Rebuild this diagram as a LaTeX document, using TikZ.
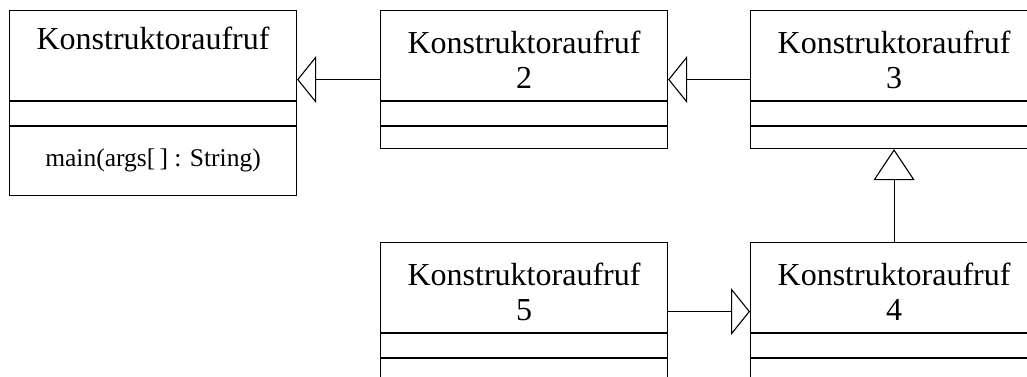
\documentclass[tikz,border=0pt]{standalone}
\usepackage{fontspec}
\setmainfont{Liberation Serif}
\usetikzlibrary{arrows.meta,calc}
\begin{document}
\begin{tikzpicture}[x=1pt,y=-1pt, line width=1.1pt,
  umlbox/.style={draw, rectangle, minimum width=287pt, inner sep=0pt, anchor=north west},
  bigbox/.style={minimum height=185pt},
  smallbox/.style={minimum height=138pt},
  ttl/.style={font=\fontsize{32}{35}\selectfont, align=center, inner sep=0pt, anchor=north},
  oper/.style={font=\fontsize{25.5}{28}\selectfont, inner sep=0pt, anchor=base},
  inhh/.style={-{Triangle[open,length=19pt,width=47pt]}},
  inhv/.style={-{Triangle[open,length=31pt,width=41pt]}}]
\useasboundingbox (0,0) rectangle (1027,376);
\clip (0,0) rectangle (1027,376);
\node[umlbox,bigbox] (b1) at (9,10) {};
\node[umlbox,smallbox] (b2) at (380,10) {};
\node[umlbox,smallbox] (b3) at (750,10) {};
\node[umlbox,smallbox] (b4) at (750,242) {};
\node[umlbox,smallbox] (b5) at (380,242) {};
\foreach \b in {b1,b2,b3,b4,b5} {
  \draw ($(\b.north west)+(0,91)$) -- ($(\b.north east)+(0,91)$);
  \draw ($(\b.north west)+(0,116)$) -- ($(\b.north east)+(0,116)$);
}
\node[ttl] (t1) at ($(b1.north)+(0,16)$) {Konstruktoraufruf};
\node[ttl] (t2) at ($(b2.north)+(0,20)$) {Konstruktoraufruf\\2};
\node[ttl] (t3) at ($(b3.north)+(0,20)$) {Konstruktoraufruf\\3};
\node[ttl] (t4) at ($(b4.north)+(0,20)$) {Konstruktoraufruf\\4};
\node[ttl] (t5) at ($(b5.north)+(0,20)$) {Konstruktoraufruf\\5};
\node[oper] (m1) at ($(b1.north)+(0,156)$) {main(args[\,] : String)};
\draw[inhh] (b2.west) -- (b2.west -| b1.east);
\draw[inhh] (b3.west) -- (b3.west -| b2.east);
\draw[inhv] (b4.north) -- (b3.south);
\draw[inhh] (b5.east) -- (b5.east -| b4.west);
\end{tikzpicture}
\end{document}
